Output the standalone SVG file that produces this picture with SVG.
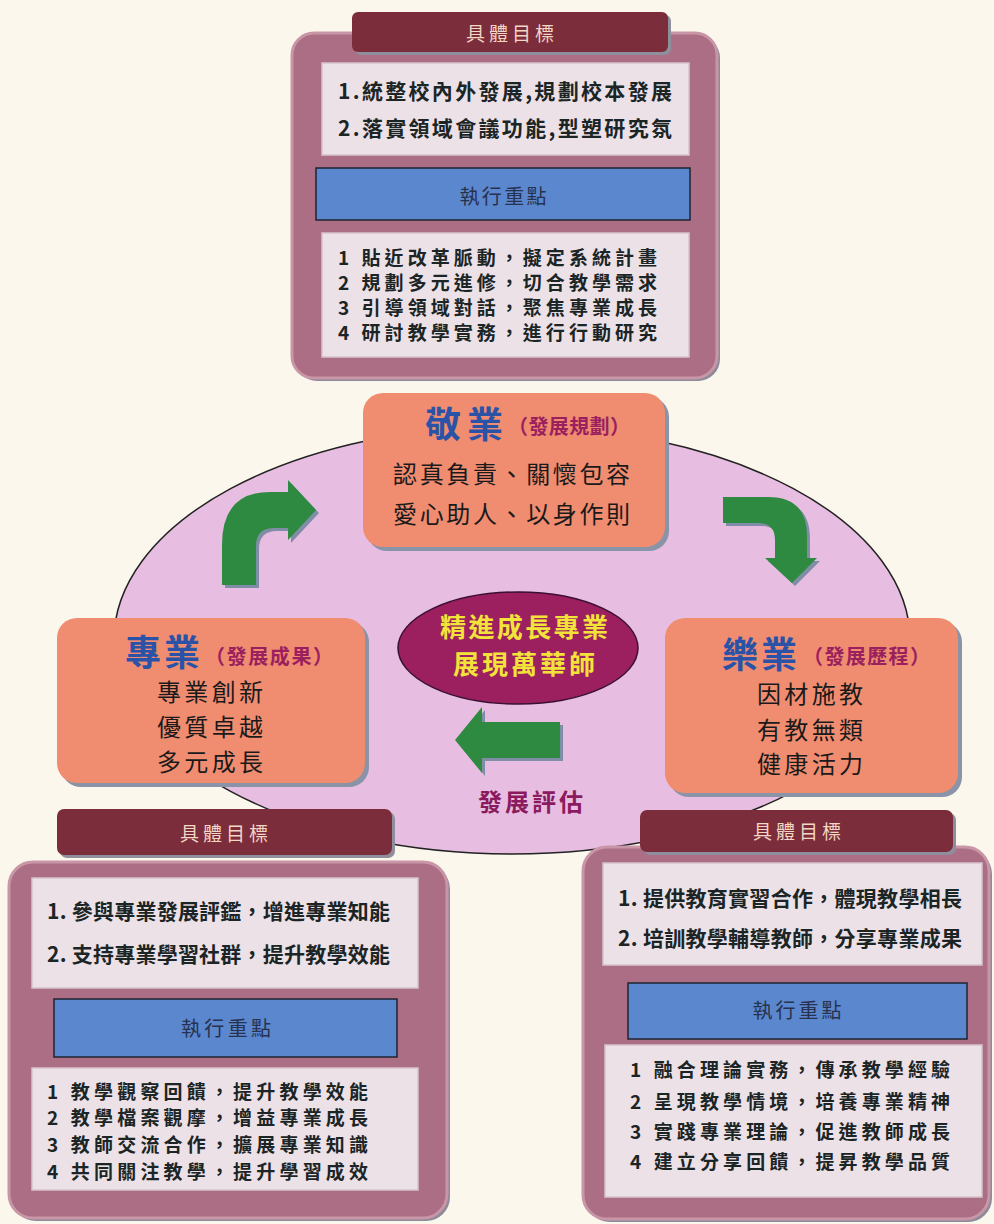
<svg xmlns="http://www.w3.org/2000/svg" width="994" height="1224" viewBox="0 0 994 1224">
<defs>
<style>
text{font-family:"Noto Sans CJK TC","Noto Sans CJK SC",sans-serif;dominant-baseline:central}
.panel{fill:#ab6e84;stroke:#c896a6;stroke-width:3}
.hdr{fill:#7b2d3b}
.hdrsh{fill:#8e8e9c}
.hdrt{fill:#f3d6c4;font-size:19px;text-anchor:middle}
.wbox{fill:#ece1e7;stroke:#d6c3cc;stroke-width:1.5}
.bbar{fill:#5b87cf;stroke:#1e2430;stroke-width:1.5}
.bbart{fill:#27324e;font-size:20px;text-anchor:middle}
.pt{fill:#1b2525;font-size:21px;font-weight:bold}
.pt4{fill:#1b2525;font-size:19px;font-weight:bold}
.box{fill:#f08c70}
.boxsh{fill:#8a94a8}
.ttl{fill:#2a52a6;font-size:36px;font-weight:bold}
.sub{fill:#9a1f5e;font-size:20px;font-weight:bold}
.bt{fill:#1a1a1a;font-size:24px}
.arr{fill:#2e8a40}
.arrsh{fill:#7f8ea6}
</style>
</defs>
<rect x="0" y="0" width="994" height="1224" fill="#fcf7ed"/>

<g id="cycle-ellipse">
<ellipse cx="512" cy="640" rx="398" ry="214" fill="#e7bee1" stroke="#222" stroke-width="1.5"/>
</g>

<g id="panel-top">
<rect x="295" y="36" width="425" height="345" rx="22" fill="#8d8a9a"/>
<rect x="292" y="33" width="425" height="345" rx="22" class="panel"/>
<rect x="355" y="15" width="316" height="40" rx="6" class="hdrsh"/>
<rect x="352" y="12" width="316" height="40" rx="6" class="hdr"/>
<text x="510" y="32" class="hdrt" textLength="88">具體目標</text>
<rect x="322" y="63" width="367" height="92" class="wbox"/>
<text x="338" y="90" class="pt" textLength="334">1.統整校內外發展,規劃校本發展</text>
<text x="338" y="127" class="pt" textLength="334">2.落實領域會議功能,型塑研究氛</text>
<rect x="316" y="168" width="374" height="52" class="bbar"/>
<text x="503" y="195" class="bbart" textLength="87">執行重點</text>
<rect x="322" y="233" width="367" height="124" class="wbox"/>
<text x="338" y="256" class="pt4" textLength="319">1 貼近改革脈動，擬定系統計畫</text>
<text x="338" y="281" class="pt4" textLength="319">2 規劃多元進修，切合教學需求</text>
<text x="338" y="306" class="pt4" textLength="319">3 引導領域對話，聚焦專業成長</text>
<text x="338" y="331" class="pt4" textLength="319">4 研討教學實務，進行行動研究</text>
</g>

<g id="connectors">
<path class="arrsh" transform="translate(3,3)" d="M222,585 V545 Q222,492 270,492 H288 V480 L316,510 L288,540 V528 H274 Q256,528 256,546 V585 Z"/>
<path class="arr" d="M222,585 V545 Q222,492 270,492 H288 V480 L316,510 L288,540 V528 H274 Q256,528 256,546 V585 Z"/>
<path class="arrsh" transform="translate(3,3)" d="M723,497 H768 Q807,497 807,536 V558 H817 L792,583 L765,558 H775 V540 Q775,523 758,523 H723 Z"/>
<path class="arr" d="M723,497 H768 Q807,497 807,536 V558 H817 L792,583 L765,558 H775 V540 Q775,523 758,523 H723 Z"/>
<path class="arrsh" transform="translate(3,3)" d="M560,722 H482 V707 L455,740 L482,773 V758 H560 Z"/>
<path class="arr" d="M560,722 H482 V707 L455,740 L482,773 V758 H560 Z"/>
</g>

<g id="node-jingye">
<rect x="367" y="397" width="302" height="154" rx="20" class="boxsh"/>
<rect x="363" y="393" width="302" height="154" rx="20" class="box"/>
<text x="425" y="422" class="ttl" textLength="78">敬業</text>
<text x="508" y="425" class="sub" textLength="122">（發展規劃）</text>
<text x="393" y="472" class="bt" textLength="237">認真負責、關懷包容</text>
<text x="393" y="512" class="bt" textLength="237">愛心助人、以身作則</text>
</g>

<g id="node-zhuanye">
<rect x="61" y="622" width="308" height="165" rx="20" class="boxsh"/>
<rect x="57" y="618" width="308" height="165" rx="20" class="box"/>
<text x="125" y="650" class="ttl" textLength="75">專業</text>
<text x="205" y="655" class="sub" textLength="128">（發展成果）</text>
<text x="157" y="690" class="bt" textLength="106">專業創新</text>
<text x="157" y="725" class="bt" textLength="106">優質卓越</text>
<text x="157" y="760" class="bt" textLength="106">多元成長</text>
</g>

<g id="node-leye">
<rect x="669" y="622" width="293" height="175" rx="20" class="boxsh"/>
<rect x="665" y="618" width="293" height="175" rx="20" class="box"/>
<text x="722" y="652" class="ttl" textLength="75">樂業</text>
<text x="803" y="655" class="sub" textLength="127">（發展歷程）</text>
<text x="757" y="692" class="bt" textLength="106">因材施教</text>
<text x="757" y="728" class="bt" textLength="106">有教無類</text>
<text x="757" y="762" class="bt" textLength="106">健康活力</text>
</g>

<g id="node-center">
<ellipse cx="518" cy="648" rx="120" ry="56" fill="#9c1f5f" stroke="#3a1030" stroke-width="1.5"/>
<text x="440" y="625" fill="#f2e33a" font-size="26" font-weight="bold" textLength="168">精進成長專業</text>
<text x="453" y="662" fill="#f2e33a" font-size="26" font-weight="bold" textLength="142">展現萬華師</text>
</g>

<g id="label-eval">
<text x="478" y="800" fill="#8b1a5e" font-size="24" font-weight="bold" textLength="105">發展評估</text>
</g>

<g id="panel-left">
<rect x="12" y="865" width="438" height="356" rx="24" fill="#8d8a9a"/>
<rect x="9" y="862" width="438" height="356" rx="24" class="panel"/>
<rect x="60" y="812" width="335" height="46" rx="7" class="hdrsh"/>
<rect x="57" y="809" width="335" height="46" rx="7" class="hdr"/>
<text x="224" y="832" class="hdrt" textLength="88">具體目標</text>
<rect x="32" y="878" width="386" height="110" class="wbox"/>
<text x="47" y="910" class="pt" textLength="343">1. 參與專業發展評鑑，增進專業知能</text>
<text x="47" y="953" class="pt" textLength="343">2. 支持專業學習社群，提升教學效能</text>
<rect x="54" y="999" width="343" height="58" class="bbar"/>
<text x="226" y="1027" class="bbart" textLength="90">執行重點</text>
<rect x="32" y="1068" width="386" height="122" class="wbox"/>
<text x="47" y="1090" class="pt4" textLength="321">1 教學觀察回饋，提升教學效能</text>
<text x="47" y="1116" class="pt4" textLength="321">2 教學檔案觀摩，增益專業成長</text>
<text x="47" y="1143" class="pt4" textLength="321">3 教師交流合作，擴展專業知識</text>
<text x="47" y="1170" class="pt4" textLength="321">4 共同關注教學，提升學習成效</text>
</g>

<g id="panel-right">
<rect x="586" y="850" width="406" height="372" rx="24" fill="#8d8a9a"/>
<rect x="583" y="847" width="406" height="372" rx="24" class="panel"/>
<rect x="643" y="813" width="313" height="42" rx="7" class="hdrsh"/>
<rect x="640" y="810" width="313" height="42" rx="7" class="hdr"/>
<text x="797" y="830" class="hdrt" textLength="88">具體目標</text>
<rect x="603" y="863" width="379" height="102" class="wbox"/>
<text x="618" y="897" class="pt" textLength="344">1. 提供教育實習合作，體現教學相長</text>
<text x="618" y="937" class="pt" textLength="344">2. 培訓教學輔導教師，分享專業成果</text>
<rect x="628" y="983" width="339" height="56" class="bbar"/>
<text x="797" y="1009" class="bbart" textLength="89">執行重點</text>
<rect x="605" y="1045" width="377" height="152" class="wbox"/>
<text x="630" y="1068" class="pt4" textLength="320">1 融合理論實務，傳承教學經驗</text>
<text x="630" y="1100" class="pt4" textLength="320">2 呈現教學情境，培養專業精神</text>
<text x="630" y="1130" class="pt4" textLength="320">3 實踐專業理論，促進教師成長</text>
<text x="630" y="1160" class="pt4" textLength="320">4 建立分享回饋，提昇教學品質</text>
</g>
</svg>
